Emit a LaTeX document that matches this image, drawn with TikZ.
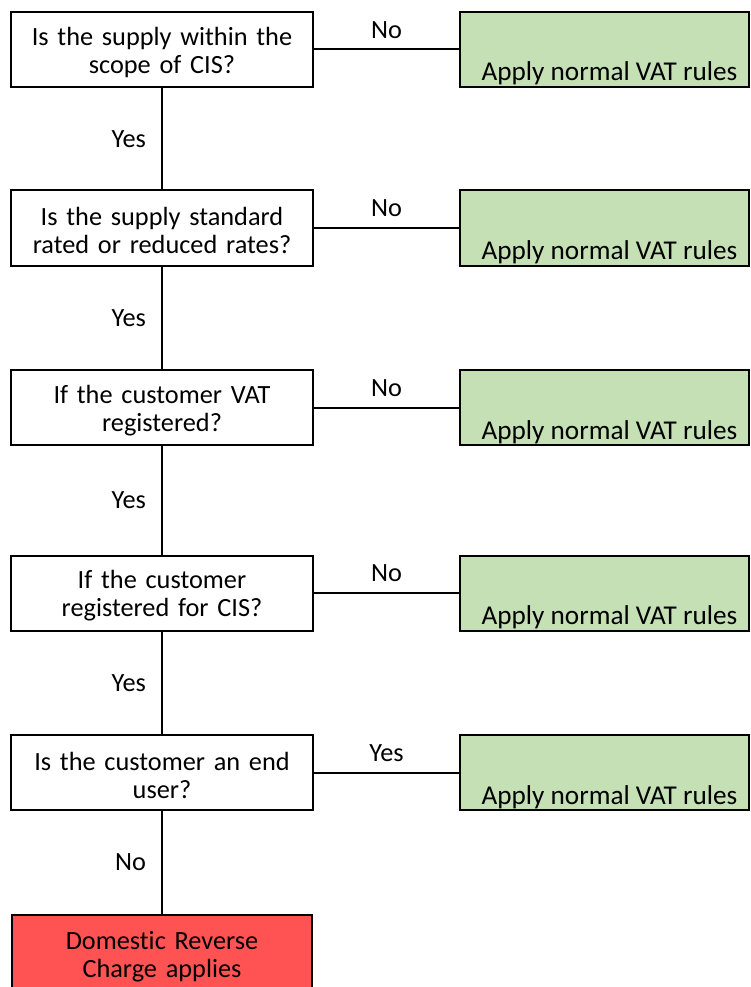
\documentclass[tikz,border=0pt]{standalone}
\usepackage{fontspec}
\setmainfont{Carlito}[Ligatures=NoCommon]
\definecolor{okgreen}{RGB}{197,224,180}
\definecolor{dcred}{RGB}{255,82,82}
\begin{document}
\begin{tikzpicture}[x=1pt,y=-1pt,
  every node/.style={font=\fontsize{26.3}{28}\selectfont},
  qbox/.style={draw, line width=2pt, minimum width=302pt, minimum height=75pt,
               align=center, text width=298pt, inner sep=0pt,
               execute at begin node=\rule{0pt}{24pt}},
  gbox/.style={draw, line width=2pt, fill=okgreen, minimum width=289pt,
               minimum height=75pt, inner sep=0pt},
  rbox/.style={draw, line width=2pt, fill=dcred, minimum width=300pt,
               minimum height=75pt, align=center, text width=298pt, inner sep=0pt,
               execute at begin node=\rule{0pt}{27pt}},
  link/.style={line width=2pt},
  tag/.style={inner sep=0pt},
  rule/.style={label={[anchor=base, inner sep=0pt, yshift=7pt, xshift=5pt,
               font=\fontsize{27.2}{30}\selectfont]south:Apply normal VAT rules}}]
\useasboundingbox (0,0) rectangle (750,987);

% questions
\node[qbox] (q1) at (162,49.5)  {Is the supply within the\\scope of CIS?};
\node[qbox] (q2) at (162,228)   {Is the supply standard\\rated or reduced rates?};
\node[qbox] (q3) at (162,407.5) {If the customer VAT\\registered?};
\node[qbox] (q4) at (162,593)   {If the customer\\registered for CIS?};
\node[qbox] (q5) at (162,772.5) {Is the customer an end\\user?};

% outcomes
\node[gbox, rule] (g1) at (604.5,49.5)  {};
\node[gbox, rule] (g2) at (604.5,228)   {};
\node[gbox, rule] (g3) at (604.5,407.5) {};
\node[gbox, rule] (g4) at (604.5,593)   {};
\node[gbox, rule] (g5) at (604.5,772.5) {};
\node[rbox] (r) at (162,952.5) {Domestic Reverse\\Charge applies};

% side branches
\draw[link] (q1) -- node[tag, above=10pt] {No}  (g1);
\draw[link] (q2) -- node[tag, above=10pt] {No}  (g2);
\draw[link] (q3) -- node[tag, above=10pt] {No}  (g3);
\draw[link] (q4) -- node[tag, above=10pt] {No}  (g4);
\draw[link] (q5) -- node[tag, above=10pt] {Yes} (g5);

% main path
\draw[link] (q1) -- node[tag, left=15pt] {Yes} (q2);
\draw[link] (q2) -- node[tag, left=15pt] {Yes} (q3);
\draw[link] (q3) -- node[tag, left=15pt] {Yes} (q4);
\draw[link] (q4) -- node[tag, left=15pt] {Yes} (q5);
\draw[link] (q5) -- node[tag, left=15pt] {No}  (r);
\end{tikzpicture}
\end{document}
